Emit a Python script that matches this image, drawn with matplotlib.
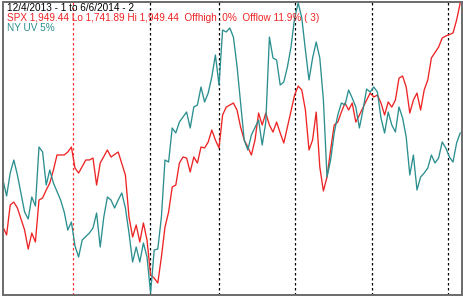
import matplotlib.pyplot as plt

# SPX close (bar index, price)
spx_day = [0, 1, 2, 3, 4, 6, 7, 8, 9, 10, 11, 12, 13, 14, 15, 17, 18, 19, 20, 21,
           23, 24, 25, 26, 27, 29, 30, 32, 34, 35, 36, 37, 38, 39, 40, 41, 42, 43, 44, 45,
           46, 47, 48, 49, 50, 51, 52, 53, 54, 55, 56, 57, 58, 59, 60, 61, 62, 64, 65, 66,
           67, 68, 69, 70, 71, 72, 73, 74, 75, 76, 77, 78, 79, 81, 82, 83, 84, 85, 86, 87,
           88, 89, 90, 91, 92, 93, 94, 95, 96, 97, 98, 99, 101, 102, 103, 104, 105, 106, 107, 108,
           109, 110, 111, 112, 113, 114, 115, 116, 117, 118, 119, 121, 122, 123, 125, 126, 127]
spx = [1783.4, 1777.5, 1799.7, 1801.9, 1797.5, 1781.2, 1767.1, 1778.9, 1772.3, 1803.4,
       1804.9, 1810.8, 1816.0, 1825.6, 1836.8, 1836.8, 1839.0, 1842.7, 1827.1, 1823.4,
       1833.1, 1833.1, 1834.5, 1814.5, 1830.8, 1840.5, 1835.3, 1839.0, 1821.9, 1790.8,
       1776.0, 1784.9, 1772.3, 1786.4, 1773.8, 1747.8, 1745.6, 1741.9, 1761.2, 1783.4,
       1794.5, 1813.0, 1814.5, 1830.8, 1835.3, 1834.5, 1824.2, 1835.3, 1830.8, 1842.7,
       1842.0, 1846.4, 1855.3, 1847.9, 1842.0, 1866.4, 1872.3, 1875.3, 1870.1, 1857.5,
       1847.9, 1842.7, 1836.8, 1847.9, 1867.9, 1859.0, 1867.9, 1859.0, 1853.8, 1861.2,
       1853.1, 1845.7, 1857.5, 1881.2, 1887.9, 1885.0, 1870.1, 1840.5, 1847.9, 1868.6,
       1827.9, 1810.1, 1820.4, 1840.5, 1859.0, 1861.2, 1868.6, 1875.3, 1870.1, 1875.3,
       1861.2, 1866.4, 1877.5, 1882.7, 1879.8, 1881.2, 1875.3, 1866.4, 1876.1, 1872.3,
       1877.5, 1893.8, 1895.3, 1887.2, 1867.9, 1877.5, 1882.7, 1870.1, 1885.0, 1892.4,
       1908.7, 1916.8, 1923.5, 1925.0, 1927.2, 1936.8, 1949.4]

# NY up volume, 5% average (bar index, value)
uv_day = [0, 1, 2, 3, 4, 6, 7, 8, 9, 10, 11, 12, 13, 14, 16, 17, 18, 19, 20, 21,
          22, 24, 25, 26, 27, 28, 29, 30, 31, 32, 33, 34, 35, 36, 37, 38, 39, 40, 41, 42,
          43, 44, 45, 46, 47, 48, 49, 50, 51, 52, 53, 54, 55, 56, 57, 58, 59, 60, 61, 62,
          63, 64, 65, 66, 67, 68, 69, 71, 72, 73, 74, 75, 76, 77, 78, 79, 80, 81, 82, 83,
          84, 85, 86, 87, 88, 89, 90, 91, 92, 93, 94, 95, 96, 97, 98, 99, 100, 101, 102, 103,
          104, 105, 106, 107, 108, 109, 110, 111, 112, 113, 114, 115, 116, 117, 118, 119, 120, 121, 122, 123,
          124, 125, 126, 127]
uv = [52.3, 50.7, 53.0, 54.3, 52.8, 49.1, 48.4, 50.6, 49.7, 55.6,
      55.1, 51.8, 53.3, 52.0, 50.3, 49.1, 47.3, 48.1, 45.7, 44.6,
      46.3, 47.0, 47.5, 49.0, 45.6, 48.6, 50.6, 50.3, 49.5, 50.3,
      51.0, 49.5, 47.0, 44.1, 45.6, 44.1, 46.0, 44.6, 41.0, 45.3,
      45.4, 48.6, 54.3, 54.1, 57.5, 57.0, 58.1, 58.6, 59.1, 57.5,
      59.6, 59.8, 61.6, 60.1, 61.0, 62.6, 64.8, 61.8, 67.3, 67.1,
      67.5, 66.6, 63.7, 60.0, 56.3, 55.3, 56.8, 58.3, 55.8, 58.1,
      66.6, 64.5, 64.3, 61.8, 62.1, 63.6, 65.6, 68.5, 70.0, 68.5,
      65.3, 62.3, 64.5, 66.1, 64.5, 60.3, 52.6, 54.3, 57.0, 58.8,
      60.0, 59.8, 61.3, 60.5, 59.6, 57.5, 59.3, 61.4, 61.1, 61.6,
      61.1, 58.5, 57.0, 59.1, 57.8, 57.1, 59.6, 58.5, 56.6, 52.8,
      54.8, 51.3, 52.6, 53.0, 53.5, 54.8, 54.0, 54.5, 56.1, 55.5,
      54.6, 54.1, 56.0, 57.0]

# month boundaries (first one is the new year)
month_marks = [19.4, 40.8, 60.0, 81.1, 102.5, 123.6]

red = '#ee2424'
teal = '#2b8f8f'

fig = plt.figure(figsize=(4.63, 2.98), dpi=100)
ax = fig.add_axes([3 / 463, 3 / 298, 459 / 463, 293 / 298])
ax2 = ax.twinx()

for i, m in enumerate(month_marks):
    ax.axvline(m, color='#ff3030' if i == 0 else 'black', lw=0.9, ls=(0, (2, 2)))

ax.plot(spx_day, spx, color=red, lw=0.95)
ax2.plot(uv_day, uv, color=teal, lw=0.95)

ax.set_xlim(0, 127.5)
ax.set_ylim(1733.0, 1950.2)
ax2.set_ylim(40.8, 70.1)

for a in (ax, ax2):
    a.set_xticks([])
    a.set_yticks([])
    for s in a.spines.values():
        s.set_color('#6e6e6e')
        s.set_linewidth(1.4)

font = dict(family='Liberation Sans', size=7.2, va='top', ha='left')
fig.text(7 / 463, 1 - 3 / 298, '12/4/2013 - 1 to 6/6/2014 - 2', color='black', **font)
fig.text(7 / 463, 1 - 13 / 298,
         'SPX 1,949.44 Lo 1,741.89 Hi 1,949.44  Offhigh .0%  Offlow 11.9% ( 3)',
         color=red, **font)
fig.text(7 / 463, 1 - 23 / 298, 'NY UV 5%', color=teal, **font)

fig.savefig('out.png', dpi=100)
